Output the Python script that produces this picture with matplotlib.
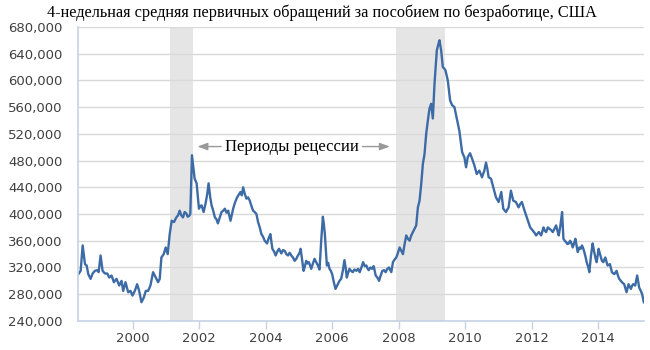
import matplotlib.pyplot as plt
from matplotlib.ticker import FuncFormatter

# 4-week average of initial jobless claims, thousands
dates = [
    1998.36, 1998.43, 1998.49, 1998.56, 1998.61, 1998.66, 1998.73, 1998.79, 1998.86, 1998.93, 1998.97,
    1999.03, 1999.09, 1999.16, 1999.23, 1999.29, 1999.36, 1999.43, 1999.51, 1999.59, 1999.66, 1999.71,
    1999.78, 1999.86, 1999.93, 1999.99,
    2000.06, 2000.13, 2000.19, 2000.26, 2000.33, 2000.39, 2000.46, 2000.53, 2000.61, 2000.69, 2000.76,
    2000.81, 2000.86, 2000.93, 2000.99,
    2001.05, 2001.11, 2001.17, 2001.24, 2001.31, 2001.36, 2001.41, 2001.46, 2001.51, 2001.56, 2001.61,
    2001.65, 2001.69, 2001.73, 2001.78, 2001.82, 2001.86, 2001.92, 2001.96, 2001.99,
    2002.03, 2002.07, 2002.13, 2002.19, 2002.24, 2002.28, 2002.33, 2002.37, 2002.42, 2002.47, 2002.52,
    2002.56, 2002.62, 2002.67, 2002.72, 2002.77, 2002.82, 2002.87, 2002.94,
    2003.02, 2003.08, 2003.14, 2003.20, 2003.24, 2003.28, 2003.32, 2003.37, 2003.42, 2003.47, 2003.52,
    2003.57, 2003.62, 2003.67, 2003.72, 2003.77, 2003.82, 2003.87, 2003.92, 2003.97,
    2004.04, 2004.09, 2004.14, 2004.20, 2004.25, 2004.30, 2004.35, 2004.40, 2004.47, 2004.52, 2004.57,
    2004.62, 2004.67, 2004.72, 2004.77, 2004.82, 2004.87, 2004.92, 2004.97,
    2005.02, 2005.05, 2005.10, 2005.14, 2005.18, 2005.22, 2005.26, 2005.30, 2005.34, 2005.37, 2005.42,
    2005.47, 2005.52, 2005.57, 2005.62, 2005.67, 2005.72, 2005.75, 2005.78, 2005.84, 2005.88, 2005.92,
    2005.96,
    2006.00, 2006.05, 2006.10, 2006.14, 2006.17, 2006.22, 2006.27, 2006.32, 2006.37, 2006.41, 2006.44,
    2006.48, 2006.52, 2006.57, 2006.62, 2006.67, 2006.73, 2006.78, 2006.83, 2006.88, 2006.93, 2006.98,
    2007.03, 2007.07, 2007.10, 2007.15, 2007.20, 2007.25, 2007.31, 2007.36, 2007.41, 2007.46, 2007.51,
    2007.56, 2007.61, 2007.66, 2007.71, 2007.75, 2007.78, 2007.83, 2007.88, 2007.93, 2007.98,
    2008.03, 2008.08, 2008.13, 2008.18, 2008.23, 2008.28, 2008.33, 2008.38, 2008.43, 2008.48, 2008.53,
    2008.58, 2008.63, 2008.68, 2008.73, 2008.78, 2008.83, 2008.88, 2008.93, 2008.98,
    2009.03, 2009.08, 2009.15, 2009.20, 2009.23, 2009.28, 2009.33, 2009.37, 2009.41, 2009.48, 2009.55,
    2009.61, 2009.68, 2009.75, 2009.83, 2009.88, 2009.91, 2009.95, 2009.98,
    2010.03, 2010.08, 2010.15, 2010.21, 2010.28, 2010.35, 2010.43, 2010.51, 2010.58, 2010.63, 2010.67,
    2010.71, 2010.78, 2010.85, 2010.93,
    2011.01, 2011.09, 2011.15, 2011.23, 2011.31, 2011.38, 2011.45, 2011.53, 2011.61, 2011.66, 2011.71,
    2011.79, 2011.87, 2011.96,
    2012.04, 2012.09, 2012.14, 2012.22, 2012.29, 2012.36, 2012.40, 2012.44, 2012.49, 2012.54, 2012.59,
    2012.64, 2012.69, 2012.74, 2012.78, 2012.82, 2012.87, 2012.92, 2012.96,
    2013.00, 2013.04, 2013.08, 2013.12, 2013.16, 2013.19, 2013.24, 2013.28, 2013.32, 2013.36, 2013.39,
    2013.44, 2013.48, 2013.52, 2013.56, 2013.59, 2013.63, 2013.66, 2013.71, 2013.74, 2013.79, 2013.84,
    2013.88, 2013.92, 2013.96,
    2014.02, 2014.05, 2014.09, 2014.12, 2014.16, 2014.22, 2014.29, 2014.36, 2014.42, 2014.49, 2014.56,
    2014.60, 2014.64, 2014.72, 2014.79, 2014.86, 2014.92, 2014.99,
    2015.03, 2015.06, 2015.12, 2015.18, 2015.24, 2015.29, 2015.33, 2015.38,
]
claims = [
    310, 315, 353, 325, 323, 310, 303, 311, 315, 316, 313,
    338, 315, 311, 311, 305, 308, 298, 303, 293, 300, 285,
    298, 283, 285, 278,
    285, 295, 285, 268, 275, 285, 285, 293, 313, 305, 298,
    303, 335, 340, 350,
    340, 370, 390, 388, 395, 398, 405, 398, 395, 403, 401,
    396, 397, 400, 488, 470, 453, 446, 425, 408,
    412, 413, 403, 416, 430, 446, 425, 413, 405, 395, 392,
    386, 395, 403, 405, 408, 402, 405, 390,
    408, 418, 425, 430, 433, 428, 440, 430, 423, 425, 420,
    412, 405, 403, 400, 388, 380, 370, 366, 360,
    356, 364, 370, 348, 344, 338, 344, 348, 341, 346, 345,
    340, 338, 342, 338, 335, 330, 333, 338,
    342, 348, 330, 315, 322, 330, 326, 328, 322, 318, 326,
    333, 328, 323, 317, 360, 396, 385, 370, 323, 327, 318,
    315,
    310, 298, 288, 292, 295, 300, 303, 315, 331, 318, 305,
    312, 318, 315, 313, 317, 315, 318, 313, 320, 328, 322,
    323, 318, 316, 320, 318, 322, 308, 305, 300, 308, 315,
    316, 313, 318, 320, 316, 313, 328, 332, 335, 342,
    350, 345, 340, 355, 368, 363, 360, 368, 373, 378, 383,
    410, 420, 445, 475, 490, 520, 540, 558, 565,
    543, 595, 645, 655, 660, 645, 620, 618, 615, 600, 570,
    563, 560, 543, 524, 505, 493, 488, 485,
    470, 485, 491, 483, 473, 460, 465, 455, 465, 477, 468,
    455, 453, 440, 425,
    418, 433, 408, 403, 410, 435, 420, 418, 410, 415, 418,
    405, 393, 380,
    375, 372, 368, 373, 368, 380, 375, 373, 380, 378, 376,
    373, 378, 383, 375, 368, 383, 403, 363,
    360, 358, 355, 356, 360, 358, 350, 356, 363, 352, 343,
    350, 348, 353, 348, 343, 335, 328, 320, 313, 338, 356,
    345, 335, 328,
    348, 342, 335, 330, 328, 335, 323, 325, 313, 310, 315,
    308, 303, 298, 295, 283, 295, 288,
    293, 295, 293, 308, 290, 285, 280, 268,
]
recessions = [(2001.12, 2001.82), (2007.91, 2009.41)]
year_ticks = [2000, 2002, 2004, 2006, 2008, 2010, 2012, 2014]
y_ticks = [240000, 280000, 320000, 360000, 400000, 440000, 480000,
           520000, 560000, 600000, 640000, 680000]

title = '4-недельная средняя первичных обращений за пособием по безработице, США'
note = 'Периоды рецессии'

fig = plt.figure(figsize=(6.5, 3.5), dpi=100)
ax = fig.add_axes([0.12, 0.083, 0.871, 0.84])

for start, end in recessions:
    ax.axvspan(start, end, color='#e5e5e5', lw=0, zorder=0.3)

ax.plot(dates, [c * 1000 for c in claims], color='#3d6ba6', lw=1.7, zorder=2)

ax.set_xlim(1998.35, 2015.39)
ax.set_ylim(240000, 680000)
ax.set_xticks(year_ticks)
ax.set_yticks(y_ticks)
ax.yaxis.set_major_formatter(FuncFormatter(lambda v, p: f'{v:,.0f}'))

ax.set_axisbelow(True)
ax.grid(axis='y', color='#d9d9d9', lw=1)
for s in ['top', 'right']:
    ax.spines[s].set_visible(False)
for s in ['left', 'bottom']:
    ax.spines[s].set_color('#c5d3e3')
    ax.spines[s].set_linewidth(1.2)

ax.tick_params(axis='y', length=0, pad=11, labelsize=9.5, labelcolor='#404040')
ax.tick_params(axis='x', length=6, width=1, color='#c5d3e3', pad=2,
               labelsize=9.5, labelcolor='#404040')

# recession note with arrows
ax.text(2004.79, 501000, note, ha='center', va='center', fontsize=12,
        family='Liberation Serif', color='black')
arrow = dict(arrowstyle='-|>,head_length=0.6,head_width=0.22', color='#999999', lw=1)
ax.annotate('', xy=(2001.86, 501000), xytext=(2002.74, 501000), arrowprops=arrow)
ax.annotate('', xy=(2007.82, 501000), xytext=(2006.83, 501000), arrowprops=arrow)

fig.text(0.495, 0.963, title, ha='center', va='center', fontsize=11.7,
         family='Liberation Serif', color='black')

fig.savefig('out.png', dpi=100)
